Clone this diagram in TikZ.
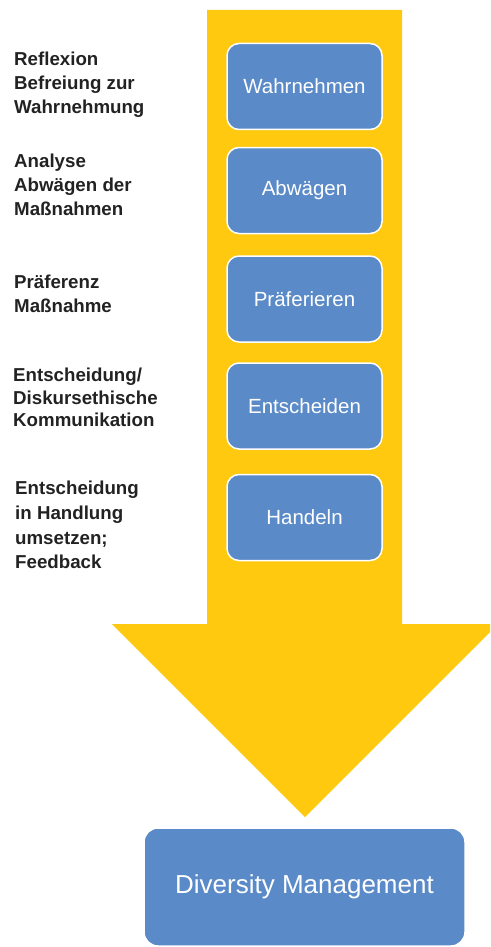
\documentclass[tikz,border=0pt]{standalone}
\usepackage{fontspec}
\setmainfont{Liberation Sans}
\definecolor{arrowyellow}{HTML}{FEC90F}
\definecolor{boxblue}{HTML}{5A8AC8}
\definecolor{labelgray}{HTML}{222222}
\begin{document}
\begin{tikzpicture}[x=1pt,y=-1pt,
  stepbox/.style={draw=white,line width=1.5pt,fill=boxblue,rounded corners=12pt,
    minimum width=155pt,minimum height=86pt,text=white,inner sep=0pt,
    font=\fontsize{20.5}{24}\selectfont},
  sidelabel/.style={anchor=north west,align=left,text=labelgray,inner sep=0pt,
    font=\bfseries\fontsize{18.7}{24}\selectfont}]
\useasboundingbox (0,0) rectangle (490,947);
\clip (0,0) rectangle (490,947);
% big arrow
\fill[arrowyellow] (207,10) -- (402,10) -- (402,624) -- (498,624) -- (305,817)
  -- (112,624) -- (207,624) -- cycle;
% step boxes
\node[stepbox] (s1) at (304.5,86.5) {Wahrnehmen};
\node[stepbox] (s2) at (304.5,190.5) {Abwägen};
\node[stepbox] (s3) at (304.5,299) {Präferieren};
\node[stepbox] (s4) at (304.5,406) {Entscheiden};
\node[stepbox] (s5) at (304.5,517.5) {Handeln};
% final box
\node[draw=white,line width=1.5pt,fill=boxblue,rounded corners=14pt,
  minimum width=321pt,minimum height=118pt,text=white,inner sep=0pt,
  font=\fontsize{26}{30}\selectfont] (dm) at (304.5,887) {Diversity Management};
% side labels
\node[sidelabel] (l1) at (14,52) {Reflexion\\Befreiung zur\\Wahrnehmung};
\node[sidelabel] (l2) at (14,154) {Analyse\\Abwägen der\\Maßnahmen};
\node[sidelabel] (l3) at (14,275) {Präferenz\\Maßnahme};
\node[sidelabel,font=\bfseries\fontsize{18.7}{22.5}\selectfont] (l4) at (13,368) {Entscheidung/\\Diskursethische\\Kommunikation};
\node[sidelabel,font=\bfseries\fontsize{18.7}{24.7}\selectfont] (l5) at (15,481) {Entscheidung\\in Handlung\\umsetzen;\\Feedback};
\end{tikzpicture}
\end{document}
